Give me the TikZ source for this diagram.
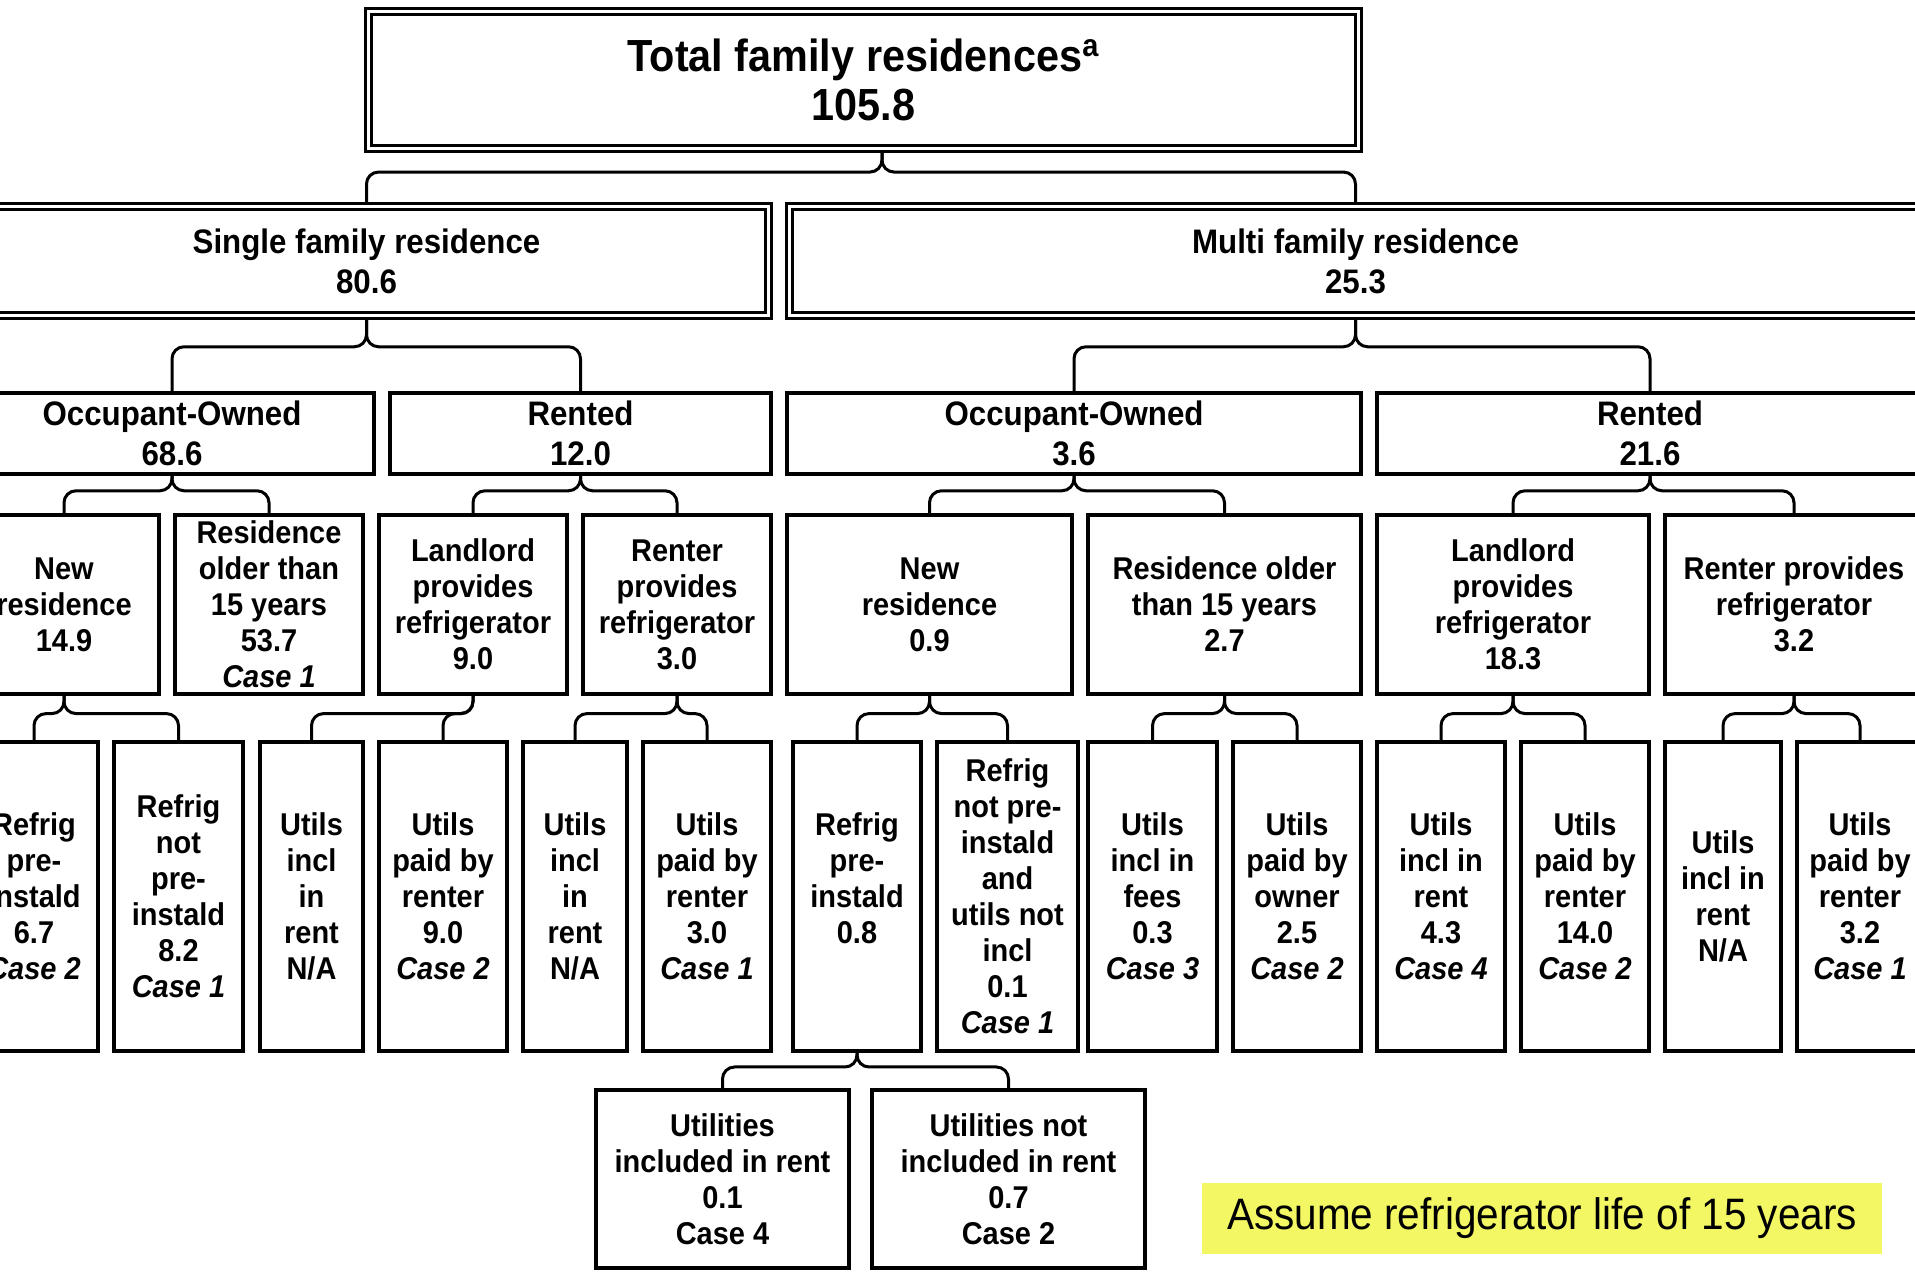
\documentclass[tikz,border=0pt]{standalone}
\usepackage{fontspec}
\setmainfont{Liberation Sans}[FakeStretch=0.92]
\usetikzlibrary{calc}
\definecolor{noteyellow}{RGB}{242,247,99}

\begin{document}
\begin{tikzpicture}[x=0.5pt, y=-0.5pt,
	box/.style={draw, line width=1.8pt, inner sep=0pt, align=center, font=\bfseries\fontsize{15.75}{18}\selectfont},
	dbox/.style={draw, double, double distance=1.2pt, line width=1.6pt, inner sep=0pt, align=center, font=\bfseries\fontsize{17}{20}\selectfont},
	head/.style={box, minimum height=40.5pt, font=\bfseries\fontsize{17}{20}\selectfont},
	mid/.style={box, minimum height=89.5pt},
	tall/.style={box, minimum width=64pt, minimum height=154.5pt},
	low/.style={box, minimum height=89pt},
	brace/.style={line width=1.5pt, rounded corners=6pt},
	note/.style={fill=noteyellow, inner sep=0pt, minimum width=340pt, minimum height=35.5pt, font=\fontsize{22}{26}\selectfont}]
	\useasboundingbox (0,0) rectangle (1915,1276);
	\clip (0,0) rectangle (1915,1276);

	\node[dbox, minimum width=495pt, minimum height=68.5pt, font=\bfseries\fontsize{22.5}{24.5}\selectfont] (top) at (863.5,80) {Total family residences\textsuperscript{a}\\105.8};
	\coordinate (topfoot) at ($(top.south)+(18.5,0)$);

	\node[dbox, minimum width=402pt, minimum height=54.5pt] (sfr) at (366.5,261) {Single family residence\\80.6};
	\node[dbox, minimum width=566pt, minimum height=54.5pt] (mfr) at (1355.5,261) {Multi family residence\\25.3};

	\node[head, minimum width=202pt] (soo) at (172,433.5) {Occupant-Owned\\68.6};
	\node[head, minimum width=190.5pt] (sre) at (580.5,433.5) {Rented\\12.0};
	\node[head, minimum width=287pt] (moo) at (1074,433.5) {Occupant-Owned\\3.6};
	\node[head, minimum width=273pt] (mre) at (1650,433.5) {Rented\\21.6};

	\node[mid, minimum width=95pt] (snew) at (64,604.5) {New\\residence\\14.9};
	\node[mid, minimum width=94pt] (sold) at (269,604.5) {Residence\\older than\\15 years\\53.7\\\textit{Case 1}};
	\node[mid, minimum width=94pt] (sll) at (473,604.5) {Landlord\\provides\\refrigerator\\9.0};
	\node[mid, minimum width=94pt] (srp) at (677,604.5) {Renter\\provides\\refrigerator\\3.0};
	\node[mid, minimum width=142.5pt] (mnew) at (929.5,604.5) {New\\residence\\0.9};
	\node[mid, minimum width=136.5pt] (mold) at (1224.5,604.5) {Residence older\\than 15 years\\2.7};
	\node[mid, minimum width=136pt] (mll) at (1513,604.5) {Landlord\\provides\\refrigerator\\18.3};
	\node[mid, minimum width=129pt] (mrp) at (1794,604.5) {Renter provides\\refrigerator\\3.2};

	\node[tall] (a1) at (34,896.5) {Refrig\\pre-\\instald\\6.7\\\textit{Case 2}};
	\node[tall, minimum width=64.5pt] (a2) at (178.5,896.5) {Refrig\\not\\pre-\\instald\\8.2\\\textit{Case 1}};
	\node[tall, minimum width=51.5pt] (a3) at (311.5,896.5) {Utils\\incl\\in\\rent\\N/A};
	\node[tall] (a4) at (443,896.5) {Utils\\paid by\\renter\\9.0\\\textit{Case 2}};
	\node[tall, minimum width=52pt] (a5) at (575,896.5) {Utils\\incl\\in\\rent\\N/A};
	\node[tall] (a6) at (707,896.5) {Utils\\paid by\\renter\\3.0\\\textit{Case 1}};
	\node[tall] (a7) at (857,896.5) {Refrig\\pre-\\instald\\0.8\\\mbox{}};
	\node[tall, minimum width=70.5pt] (a8) at (1007.5,896.5) {Refrig\\not pre-\\instald\\and\\utils not\\incl\\0.1\\\textit{Case 1}};
	\node[tall, minimum width=64.5pt] (a9) at (1152.5,896.5) {Utils\\incl in\\fees\\0.3\\\textit{Case 3}};
	\node[tall] (a10) at (1297,896.5) {Utils\\paid by\\owner\\2.5\\\textit{Case 2}};
	\node[tall] (a11) at (1441,896.5) {Utils\\incl in\\rent\\4.3\\\textit{Case 4}};
	\node[tall] (a12) at (1585,896.5) {Utils\\paid by\\renter\\14.0\\\textit{Case 2}};
	\node[tall, minimum width=58pt] (a13) at (1723,896.5) {Utils\\incl in\\rent\\N/A};
	\node[tall, minimum width=63pt] (a14) at (1860,896.5) {Utils\\paid by\\renter\\3.2\\\textit{Case 1}};

	\node[low, minimum width=126.5pt] (b1) at (722.5,1179) {Utilities\\included in rent\\0.1\\Case 4};
	\node[low, minimum width=136.5pt] (b2) at (1008.5,1179) {Utilities not\\included in rent\\0.7\\Case 2};

	\node[note] (life) at (1542,1218.5) {Assume refrigerator life of 15 years};

	\foreach \p/\l/\r in {topfoot/sfr/mfr, sfr.south/soo/sre, mfr.south/moo/mre, soo.south/snew/sold,
	                      sre.south/sll/srp, moo.south/mnew/mold, mre.south/mll/mrp, snew.south/a1/a2,
	                      sll.south/a3/a4, srp.south/a5/a6, mnew.south/a7/a8, mold.south/a9/a10,
	                      mll.south/a11/a12, mrp.south/a13/a14, a7.south/b1/b2}{
		\coordinate (m) at ($(\p)!0.4!(\p |- \l.north)$);
		\draw[brace] (\l.north) |- (m) -- (\p);
		\draw[brace] (\r.north) |- (m) -- (\p);
	}
\end{tikzpicture}
\end{document}
